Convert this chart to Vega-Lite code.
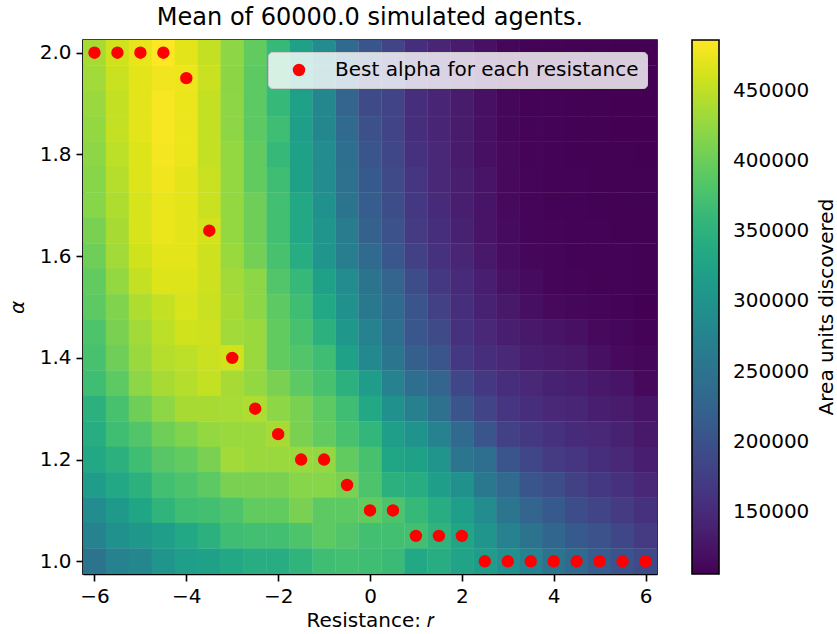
{
  "$schema": "https://vega.github.io/schema/vega-lite/v6.json",
  "autosize": {"type": "none"},
  "width": 574,
  "height": 534,
  "padding": {"left": 83, "top": 40, "right": 180, "bottom": 60},
  "background": "white",
  "title": {"text": "Mean of 60000.0 simulated agents.", "font": "DejaVu Sans", "fontSize": 24, "fontWeight": "normal", "color": "black", "anchor": "middle", "offset": 10},
  "config": {
    "font": "DejaVu Sans",
    "view": {"stroke": "black", "strokeWidth": 1.6},
    "axis": {
      "domainColor": "black", "domainWidth": 1.6, "tickColor": "black", "tickWidth": 1.6, "tickSize": 7,
      "labelFont": "DejaVu Sans", "labelFontSize": 20, "labelColor": "black", "labelPadding": 5, "labelFlush": false,
      "titleFont": "DejaVu Sans", "titleFontSize": 20, "titleFontWeight": "normal", "titleColor": "black",
      "grid": false, "zindex": 1
    }
  },
  "datasets": {
    "grid": [
      {"r":-6,"a":2.0,"v":436600},{"r":-5.5,"a":2.0,"v":459400},{"r":-5,"a":2.0,"v":472700},{"r":-4.5,"a":2.0,"v":486000},{"r":-4,"a":2.0,"v":470800},{"r":-3.5,"a":2.0,"v":451800},{"r":-3,"a":2.0,"v":421400},{"r":-2.5,"a":2.0,"v":394800},{"r":-2,"a":2.0,"v":360600},{"r":-1.5,"a":2.0,"v":322600},{"r":-1,"a":2.0,"v":288400},{"r":-0.5,"a":2.0,"v":235200},{"r":0,"a":2.0,"v":204800},{"r":0.5,"a":2.0,"v":182000},{"r":1,"a":2.0,"v":155400},{"r":1.5,"a":2.0,"v":144000},{"r":2,"a":2.0,"v":132600},{"r":2.5,"a":2.0,"v":121200},{"r":3,"a":2.0,"v":111700},{"r":3.5,"a":2.0,"v":107900},{"r":4,"a":2.0,"v":107520},{"r":4.5,"a":2.0,"v":107140},{"r":5,"a":2.0,"v":106760},{"r":5.5,"a":2.0,"v":106380},{"r":6,"a":2.0,"v":106000},
      {"r":-6,"a":1.95,"v":432800},{"r":-5.5,"a":1.95,"v":455600},{"r":-5,"a":1.95,"v":470800},{"r":-4.5,"a":1.95,"v":478400},{"r":-4,"a":1.95,"v":476500},{"r":-3.5,"a":1.95,"v":455600},{"r":-3,"a":1.95,"v":421000},{"r":-2.5,"a":1.95,"v":391000},{"r":-2,"a":1.95,"v":360600},{"r":-1.5,"a":1.95,"v":318800},{"r":-1,"a":1.95,"v":284600},{"r":-0.5,"a":1.95,"v":235200},{"r":0,"a":1.95,"v":189600},{"r":0.5,"a":1.95,"v":182000},{"r":1,"a":1.95,"v":155400},{"r":1.5,"a":1.95,"v":144000},{"r":2,"a":1.95,"v":132600},{"r":2.5,"a":1.95,"v":121200},{"r":3,"a":1.95,"v":111700},{"r":3.5,"a":1.95,"v":107900},{"r":4,"a":1.95,"v":107140},{"r":4.5,"a":1.95,"v":106760},{"r":5,"a":1.95,"v":106380},{"r":5.5,"a":1.95,"v":106380},{"r":6,"a":1.95,"v":106380},
      {"r":-6,"a":1.9,"v":429000},{"r":-5.5,"a":1.9,"v":451800},{"r":-5,"a":1.9,"v":470800},{"r":-4.5,"a":1.9,"v":482200},{"r":-4,"a":1.9,"v":474600},{"r":-3.5,"a":1.9,"v":451800},{"r":-3,"a":1.9,"v":421400},{"r":-2.5,"a":1.9,"v":391000},{"r":-2,"a":1.9,"v":360600},{"r":-1.5,"a":1.9,"v":322600},{"r":-1,"a":1.9,"v":280800},{"r":-0.5,"a":1.9,"v":227600},{"r":0,"a":1.9,"v":189600},{"r":0.5,"a":1.9,"v":182000},{"r":1,"a":1.9,"v":155400},{"r":1.5,"a":1.9,"v":144000},{"r":2,"a":1.9,"v":132600},{"r":2.5,"a":1.9,"v":121200},{"r":3,"a":1.9,"v":111700},{"r":3.5,"a":1.9,"v":107900},{"r":4,"a":1.9,"v":107520},{"r":4.5,"a":1.9,"v":107140},{"r":5,"a":1.9,"v":106760},{"r":5.5,"a":1.9,"v":106000},{"r":6,"a":1.9,"v":106380},
      {"r":-6,"a":1.85,"v":425200},{"r":-5.5,"a":1.85,"v":451800},{"r":-5,"a":1.85,"v":470800},{"r":-4.5,"a":1.85,"v":482200},{"r":-4,"a":1.85,"v":474600},{"r":-3.5,"a":1.85,"v":451800},{"r":-3,"a":1.85,"v":421400},{"r":-2.5,"a":1.85,"v":391000},{"r":-2,"a":1.85,"v":368200},{"r":-1.5,"a":1.85,"v":318800},{"r":-1,"a":1.85,"v":280800},{"r":-0.5,"a":1.85,"v":235200},{"r":0,"a":1.85,"v":197200},{"r":0.5,"a":1.85,"v":182000},{"r":1,"a":1.85,"v":155400},{"r":1.5,"a":1.85,"v":144000},{"r":2,"a":1.85,"v":132600},{"r":2.5,"a":1.85,"v":121200},{"r":3,"a":1.85,"v":111700},{"r":3.5,"a":1.85,"v":109040},{"r":4,"a":1.85,"v":107520},{"r":4.5,"a":1.85,"v":107140},{"r":5,"a":1.85,"v":106760},{"r":5.5,"a":1.85,"v":106380},{"r":6,"a":1.85,"v":106000},
      {"r":-6,"a":1.8,"v":421400},{"r":-5.5,"a":1.8,"v":448000},{"r":-5,"a":1.8,"v":467000},{"r":-4.5,"a":1.8,"v":480300},{"r":-4,"a":1.8,"v":474600},{"r":-3.5,"a":1.8,"v":451800},{"r":-3,"a":1.8,"v":425200},{"r":-2.5,"a":1.8,"v":394800},{"r":-2,"a":1.8,"v":360600},{"r":-1.5,"a":1.8,"v":322600},{"r":-1,"a":1.8,"v":288400},{"r":-0.5,"a":1.8,"v":242800},{"r":0,"a":1.8,"v":204800},{"r":0.5,"a":1.8,"v":185800},{"r":1,"a":1.8,"v":159200},{"r":1.5,"a":1.8,"v":147800},{"r":2,"a":1.8,"v":132600},{"r":2.5,"a":1.8,"v":121200},{"r":3,"a":1.8,"v":113600},{"r":3.5,"a":1.8,"v":109040},{"r":4,"a":1.8,"v":107900},{"r":4.5,"a":1.8,"v":107140},{"r":5,"a":1.8,"v":106760},{"r":5.5,"a":1.8,"v":106760},{"r":6,"a":1.8,"v":106380},
      {"r":-6,"a":1.75,"v":417600},{"r":-5.5,"a":1.75,"v":444200},{"r":-5,"a":1.75,"v":467000},{"r":-4.5,"a":1.75,"v":478400},{"r":-4,"a":1.75,"v":470800},{"r":-3.5,"a":1.75,"v":455600},{"r":-3,"a":1.75,"v":425200},{"r":-2.5,"a":1.75,"v":394800},{"r":-2,"a":1.75,"v":368200},{"r":-1.5,"a":1.75,"v":322600},{"r":-1,"a":1.75,"v":288400},{"r":-0.5,"a":1.75,"v":246600},{"r":0,"a":1.75,"v":212400},{"r":0.5,"a":1.75,"v":189600},{"r":1,"a":1.75,"v":163000},{"r":1.5,"a":1.75,"v":147800},{"r":2,"a":1.75,"v":136400},{"r":2.5,"a":1.75,"v":125000},{"r":3,"a":1.75,"v":113600},{"r":3.5,"a":1.75,"v":109800},{"r":4,"a":1.75,"v":107900},{"r":4.5,"a":1.75,"v":107520},{"r":5,"a":1.75,"v":107140},{"r":5.5,"a":1.75,"v":107140},{"r":6,"a":1.75,"v":106760},
      {"r":-6,"a":1.7,"v":417600},{"r":-5.5,"a":1.7,"v":440400},{"r":-5,"a":1.7,"v":463200},{"r":-4.5,"a":1.7,"v":474600},{"r":-4,"a":1.7,"v":470800},{"r":-3.5,"a":1.7,"v":455600},{"r":-3,"a":1.7,"v":425200},{"r":-2.5,"a":1.7,"v":402400},{"r":-2,"a":1.7,"v":372000},{"r":-1.5,"a":1.7,"v":334000},{"r":-1,"a":1.7,"v":296000},{"r":-0.5,"a":1.7,"v":250400},{"r":0,"a":1.7,"v":216200},{"r":0.5,"a":1.7,"v":193400},{"r":1,"a":1.7,"v":166800},{"r":1.5,"a":1.7,"v":151600},{"r":2,"a":1.7,"v":136400},{"r":2.5,"a":1.7,"v":125000},{"r":3,"a":1.7,"v":113600},{"r":3.5,"a":1.7,"v":109800},{"r":4,"a":1.7,"v":108280},{"r":4.5,"a":1.7,"v":107520},{"r":5,"a":1.7,"v":107140},{"r":5.5,"a":1.7,"v":107140},{"r":6,"a":1.7,"v":106760},
      {"r":-6,"a":1.65,"v":410000},{"r":-5.5,"a":1.65,"v":436600},{"r":-5,"a":1.65,"v":463200},{"r":-4.5,"a":1.65,"v":474600},{"r":-4,"a":1.65,"v":470800},{"r":-3.5,"a":1.65,"v":461300},{"r":-3,"a":1.65,"v":425200},{"r":-2.5,"a":1.65,"v":402400},{"r":-2,"a":1.65,"v":372000},{"r":-1.5,"a":1.65,"v":334000},{"r":-1,"a":1.65,"v":303600},{"r":-0.5,"a":1.65,"v":261800},{"r":0,"a":1.65,"v":223800},{"r":0.5,"a":1.65,"v":201000},{"r":1,"a":1.65,"v":170600},{"r":1.5,"a":1.65,"v":155400},{"r":2,"a":1.65,"v":140200},{"r":2.5,"a":1.65,"v":125000},{"r":3,"a":1.65,"v":115500},{"r":3.5,"a":1.65,"v":110560},{"r":4,"a":1.65,"v":109040},{"r":4.5,"a":1.65,"v":107900},{"r":5,"a":1.65,"v":107520},{"r":5.5,"a":1.65,"v":107140},{"r":6,"a":1.65,"v":106760},
      {"r":-6,"a":1.6,"v":402400},{"r":-5.5,"a":1.6,"v":432800},{"r":-5,"a":1.6,"v":459400},{"r":-4.5,"a":1.6,"v":470800},{"r":-4,"a":1.6,"v":470800},{"r":-3.5,"a":1.6,"v":457500},{"r":-3,"a":1.6,"v":429000},{"r":-2.5,"a":1.6,"v":406200},{"r":-2,"a":1.6,"v":375800},{"r":-1.5,"a":1.6,"v":341600},{"r":-1,"a":1.6,"v":303600},{"r":-0.5,"a":1.6,"v":265600},{"r":0,"a":1.6,"v":235200},{"r":0.5,"a":1.6,"v":208600},{"r":1,"a":1.6,"v":178200},{"r":1.5,"a":1.6,"v":159200},{"r":2,"a":1.6,"v":144000},{"r":2.5,"a":1.6,"v":128800},{"r":3,"a":1.6,"v":117400},{"r":3.5,"a":1.6,"v":111700},{"r":4,"a":1.6,"v":109800},{"r":4.5,"a":1.6,"v":108280},{"r":5,"a":1.6,"v":107900},{"r":5.5,"a":1.6,"v":107520},{"r":6,"a":1.6,"v":106760},
      {"r":-6,"a":1.55,"v":394800},{"r":-5.5,"a":1.55,"v":425200},{"r":-5,"a":1.55,"v":451800},{"r":-4.5,"a":1.55,"v":467000},{"r":-4,"a":1.55,"v":467000},{"r":-3.5,"a":1.55,"v":457500},{"r":-3,"a":1.55,"v":432800},{"r":-2.5,"a":1.55,"v":421400},{"r":-2,"a":1.55,"v":383400},{"r":-1.5,"a":1.55,"v":360600},{"r":-1,"a":1.55,"v":322600},{"r":-0.5,"a":1.55,"v":288400},{"r":0,"a":1.55,"v":250400},{"r":0.5,"a":1.55,"v":227600},{"r":1,"a":1.55,"v":193400},{"r":1.5,"a":1.55,"v":166800},{"r":2,"a":1.55,"v":151600},{"r":2.5,"a":1.55,"v":136400},{"r":3,"a":1.55,"v":123100},{"r":3.5,"a":1.55,"v":115500},{"r":4,"a":1.55,"v":110560},{"r":4.5,"a":1.55,"v":109040},{"r":5,"a":1.55,"v":108280},{"r":5.5,"a":1.55,"v":107520},{"r":6,"a":1.55,"v":106760},
      {"r":-6,"a":1.5,"v":391000},{"r":-5.5,"a":1.5,"v":413800},{"r":-5,"a":1.5,"v":440400},{"r":-4.5,"a":1.5,"v":451800},{"r":-4,"a":1.5,"v":463200},{"r":-3.5,"a":1.5,"v":455600},{"r":-3,"a":1.5,"v":436600},{"r":-2.5,"a":1.5,"v":421400},{"r":-2,"a":1.5,"v":391000},{"r":-1.5,"a":1.5,"v":368200},{"r":-1,"a":1.5,"v":334000},{"r":-0.5,"a":1.5,"v":296000},{"r":0,"a":1.5,"v":258000},{"r":0.5,"a":1.5,"v":235200},{"r":1,"a":1.5,"v":204800},{"r":1.5,"a":1.5,"v":178200},{"r":2,"a":1.5,"v":155400},{"r":2.5,"a":1.5,"v":140200},{"r":3,"a":1.5,"v":128800},{"r":3.5,"a":1.5,"v":119300},{"r":4,"a":1.5,"v":113600},{"r":4.5,"a":1.5,"v":111700},{"r":5,"a":1.5,"v":109800},{"r":5.5,"a":1.5,"v":107900},{"r":6,"a":1.5,"v":106000},
      {"r":-6,"a":1.45,"v":379600},{"r":-5.5,"a":1.45,"v":410000},{"r":-5,"a":1.45,"v":432800},{"r":-4.5,"a":1.45,"v":448000},{"r":-4,"a":1.45,"v":459400},{"r":-3.5,"a":1.45,"v":457500},{"r":-3,"a":1.45,"v":432800},{"r":-2.5,"a":1.45,"v":429000},{"r":-2,"a":1.45,"v":394800},{"r":-1.5,"a":1.45,"v":375800},{"r":-1,"a":1.45,"v":349200},{"r":-0.5,"a":1.45,"v":307400},{"r":0,"a":1.45,"v":273200},{"r":0.5,"a":1.45,"v":242800},{"r":1,"a":1.45,"v":208600},{"r":1.5,"a":1.45,"v":189600},{"r":2,"a":1.45,"v":159200},{"r":2.5,"a":1.45,"v":147800},{"r":3,"a":1.45,"v":136400},{"r":3.5,"a":1.45,"v":128800},{"r":4,"a":1.45,"v":125000},{"r":4.5,"a":1.45,"v":121200},{"r":5,"a":1.45,"v":113600},{"r":5.5,"a":1.45,"v":111700},{"r":6,"a":1.45,"v":107900},
      {"r":-6,"a":1.4,"v":375800},{"r":-5.5,"a":1.4,"v":402400},{"r":-5,"a":1.4,"v":429000},{"r":-4.5,"a":1.4,"v":444200},{"r":-4,"a":1.4,"v":448000},{"r":-3.5,"a":1.4,"v":455600},{"r":-3,"a":1.4,"v":459400},{"r":-2.5,"a":1.4,"v":429000},{"r":-2,"a":1.4,"v":394800},{"r":-1.5,"a":1.4,"v":383400},{"r":-1,"a":1.4,"v":368200},{"r":-0.5,"a":1.4,"v":322600},{"r":0,"a":1.4,"v":284600},{"r":0.5,"a":1.4,"v":254200},{"r":1,"a":1.4,"v":220000},{"r":1.5,"a":1.4,"v":204800},{"r":2,"a":1.4,"v":166800},{"r":2.5,"a":1.4,"v":155400},{"r":3,"a":1.4,"v":147800},{"r":3.5,"a":1.4,"v":136400},{"r":4,"a":1.4,"v":132600},{"r":4.5,"a":1.4,"v":128800},{"r":5,"a":1.4,"v":121200},{"r":5.5,"a":1.4,"v":113600},{"r":6,"a":1.4,"v":111700},
      {"r":-6,"a":1.35,"v":368200},{"r":-5.5,"a":1.35,"v":391000},{"r":-5,"a":1.35,"v":421400},{"r":-4.5,"a":1.35,"v":436600},{"r":-4,"a":1.35,"v":444200},{"r":-3.5,"a":1.35,"v":451800},{"r":-3,"a":1.35,"v":436600},{"r":-2.5,"a":1.35,"v":425200},{"r":-2,"a":1.35,"v":410000},{"r":-1.5,"a":1.35,"v":391000},{"r":-1,"a":1.35,"v":375800},{"r":-0.5,"a":1.35,"v":349200},{"r":0,"a":1.35,"v":315000},{"r":0.5,"a":1.35,"v":273200},{"r":1,"a":1.35,"v":242800},{"r":1.5,"a":1.35,"v":227600},{"r":2,"a":1.35,"v":185800},{"r":2.5,"a":1.35,"v":166800},{"r":3,"a":1.35,"v":155400},{"r":3.5,"a":1.35,"v":147800},{"r":4,"a":1.35,"v":140200},{"r":4.5,"a":1.35,"v":136400},{"r":5,"a":1.35,"v":128800},{"r":5.5,"a":1.35,"v":125000},{"r":6,"a":1.35,"v":113600},
      {"r":-6,"a":1.3,"v":349200},{"r":-5.5,"a":1.3,"v":375800},{"r":-5,"a":1.3,"v":402400},{"r":-4.5,"a":1.3,"v":421400},{"r":-4,"a":1.3,"v":436600},{"r":-3.5,"a":1.3,"v":436600},{"r":-3,"a":1.3,"v":436200},{"r":-2.5,"a":1.3,"v":440400},{"r":-2,"a":1.3,"v":421400},{"r":-1.5,"a":1.3,"v":410000},{"r":-1,"a":1.3,"v":391000},{"r":-0.5,"a":1.3,"v":368200},{"r":0,"a":1.3,"v":334000},{"r":0.5,"a":1.3,"v":296000},{"r":1,"a":1.3,"v":269400},{"r":1.5,"a":1.3,"v":246600},{"r":2,"a":1.3,"v":204800},{"r":2.5,"a":1.3,"v":182000},{"r":3,"a":1.3,"v":163000},{"r":3.5,"a":1.3,"v":155400},{"r":4,"a":1.3,"v":147800},{"r":4.5,"a":1.3,"v":144000},{"r":5,"a":1.3,"v":136400},{"r":5.5,"a":1.3,"v":132600},{"r":6,"a":1.3,"v":125000},
      {"r":-6,"a":1.25,"v":341600},{"r":-5.5,"a":1.25,"v":368200},{"r":-5,"a":1.25,"v":383400},{"r":-4.5,"a":1.25,"v":402400},{"r":-4,"a":1.25,"v":413800},{"r":-3.5,"a":1.25,"v":425200},{"r":-3,"a":1.25,"v":429000},{"r":-2.5,"a":1.25,"v":429000},{"r":-2,"a":1.25,"v":436600},{"r":-1.5,"a":1.25,"v":410000},{"r":-1,"a":1.25,"v":394800},{"r":-0.5,"a":1.25,"v":375800},{"r":0,"a":1.25,"v":356800},{"r":0.5,"a":1.25,"v":318800},{"r":1,"a":1.25,"v":299800},{"r":1.5,"a":1.25,"v":273200},{"r":2,"a":1.25,"v":235200},{"r":2.5,"a":1.25,"v":204800},{"r":3,"a":1.25,"v":178200},{"r":3.5,"a":1.25,"v":166800},{"r":4,"a":1.25,"v":159200},{"r":4.5,"a":1.25,"v":151600},{"r":5,"a":1.25,"v":147800},{"r":5.5,"a":1.25,"v":140200},{"r":6,"a":1.25,"v":128800},
      {"r":-6,"a":1.2,"v":334000},{"r":-5.5,"a":1.2,"v":349200},{"r":-5,"a":1.2,"v":368200},{"r":-4.5,"a":1.2,"v":387200},{"r":-4,"a":1.2,"v":394800},{"r":-3.5,"a":1.2,"v":410000},{"r":-3,"a":1.2,"v":432800},{"r":-2.5,"a":1.2,"v":428600},{"r":-2,"a":1.2,"v":429000},{"r":-1.5,"a":1.2,"v":429000},{"r":-1,"a":1.2,"v":425200},{"r":-0.5,"a":1.2,"v":394800},{"r":0,"a":1.2,"v":375800},{"r":0.5,"a":1.2,"v":330200},{"r":1,"a":1.2,"v":322600},{"r":1.5,"a":1.2,"v":303600},{"r":2,"a":1.2,"v":254200},{"r":2.5,"a":1.2,"v":242800},{"r":3,"a":1.2,"v":204800},{"r":3.5,"a":1.2,"v":185800},{"r":4,"a":1.2,"v":170600},{"r":4.5,"a":1.2,"v":163000},{"r":5,"a":1.2,"v":155400},{"r":5.5,"a":1.2,"v":147800},{"r":6,"a":1.2,"v":136400},
      {"r":-6,"a":1.15,"v":315000},{"r":-5.5,"a":1.15,"v":334000},{"r":-5,"a":1.15,"v":349200},{"r":-4.5,"a":1.15,"v":372000},{"r":-4,"a":1.15,"v":379600},{"r":-3.5,"a":1.15,"v":391000},{"r":-3,"a":1.15,"v":410000},{"r":-2.5,"a":1.15,"v":410000},{"r":-2,"a":1.15,"v":410000},{"r":-1.5,"a":1.15,"v":417600},{"r":-1,"a":1.15,"v":417600},{"r":-0.5,"a":1.15,"v":410000},{"r":0,"a":1.15,"v":379600},{"r":0.5,"a":1.15,"v":349200},{"r":1,"a":1.15,"v":341600},{"r":1.5,"a":1.15,"v":318800},{"r":2,"a":1.15,"v":296000},{"r":2.5,"a":1.15,"v":258000},{"r":3,"a":1.15,"v":235200},{"r":3.5,"a":1.15,"v":204800},{"r":4,"a":1.15,"v":193400},{"r":4.5,"a":1.15,"v":178200},{"r":5,"a":1.15,"v":166800},{"r":5.5,"a":1.15,"v":159200},{"r":6,"a":1.15,"v":147800},
      {"r":-6,"a":1.1,"v":288400},{"r":-5.5,"a":1.1,"v":311200},{"r":-5,"a":1.1,"v":330200},{"r":-4.5,"a":1.1,"v":353000},{"r":-4,"a":1.1,"v":368200},{"r":-3.5,"a":1.1,"v":372000},{"r":-3,"a":1.1,"v":379600},{"r":-2.5,"a":1.1,"v":394800},{"r":-2,"a":1.1,"v":394800},{"r":-1.5,"a":1.1,"v":410000},{"r":-1,"a":1.1,"v":391000},{"r":-0.5,"a":1.1,"v":391000},{"r":0,"a":1.1,"v":394800},{"r":0.5,"a":1.1,"v":379600},{"r":1,"a":1.1,"v":360600},{"r":1.5,"a":1.1,"v":341600},{"r":2,"a":1.1,"v":318800},{"r":2.5,"a":1.1,"v":288400},{"r":3,"a":1.1,"v":254200},{"r":3.5,"a":1.1,"v":227600},{"r":4,"a":1.1,"v":212400},{"r":4.5,"a":1.1,"v":193400},{"r":5,"a":1.1,"v":182000},{"r":5.5,"a":1.1,"v":170600},{"r":6,"a":1.1,"v":159200},
      {"r":-6,"a":1.05,"v":273200},{"r":-5.5,"a":1.05,"v":296000},{"r":-5,"a":1.05,"v":307400},{"r":-4.5,"a":1.05,"v":318800},{"r":-4,"a":1.05,"v":334000},{"r":-3.5,"a":1.05,"v":349200},{"r":-3,"a":1.05,"v":368200},{"r":-2.5,"a":1.05,"v":372000},{"r":-2,"a":1.05,"v":372000},{"r":-1.5,"a":1.05,"v":379600},{"r":-1,"a":1.05,"v":391000},{"r":-0.5,"a":1.05,"v":383400},{"r":0,"a":1.05,"v":372000},{"r":0.5,"a":1.05,"v":372000},{"r":1,"a":1.05,"v":372000},{"r":1.5,"a":1.05,"v":353000},{"r":2,"a":1.05,"v":330200},{"r":2.5,"a":1.05,"v":303600},{"r":3,"a":1.05,"v":273200},{"r":3.5,"a":1.05,"v":250400},{"r":4,"a":1.05,"v":231400},{"r":4.5,"a":1.05,"v":212400},{"r":5,"a":1.05,"v":201000},{"r":5.5,"a":1.05,"v":185800},{"r":6,"a":1.05,"v":170600},
      {"r":-6,"a":1.0,"v":250400},{"r":-5.5,"a":1.0,"v":273200},{"r":-5,"a":1.0,"v":280800},{"r":-4.5,"a":1.0,"v":303600},{"r":-4,"a":1.0,"v":318800},{"r":-3.5,"a":1.0,"v":322600},{"r":-3,"a":1.0,"v":334000},{"r":-2.5,"a":1.0,"v":341600},{"r":-2,"a":1.0,"v":341600},{"r":-1.5,"a":1.0,"v":353000},{"r":-1,"a":1.0,"v":368200},{"r":-0.5,"a":1.0,"v":372000},{"r":0,"a":1.0,"v":368200},{"r":0.5,"a":1.0,"v":364400},{"r":1,"a":1.0,"v":334000},{"r":1.5,"a":1.0,"v":341600},{"r":2,"a":1.0,"v":326400},{"r":2.5,"a":1.0,"v":315000},{"r":3,"a":1.0,"v":296000},{"r":3.5,"a":1.0,"v":273200},{"r":4,"a":1.0,"v":250400},{"r":4.5,"a":1.0,"v":235200},{"r":5,"a":1.0,"v":216200},{"r":5.5,"a":1.0,"v":201000},{"r":6,"a":1.0,"v":189600}
    ],
    "best": [
      {"r":-6,"a":2.0},{"r":-5.5,"a":2.0},{"r":-5,"a":2.0},{"r":-4.5,"a":2.0},{"r":-4,"a":1.95},{"r":-3.5,"a":1.65},{"r":-3,"a":1.4},{"r":-2.5,"a":1.3},{"r":-2,"a":1.25},{"r":-1.5,"a":1.2},{"r":-1,"a":1.2},{"r":-0.5,"a":1.15},{"r":0,"a":1.1},{"r":0.5,"a":1.1},{"r":1,"a":1.05},{"r":1.5,"a":1.05},{"r":2,"a":1.05},{"r":2.5,"a":1.0},{"r":3,"a":1.0},{"r":3.5,"a":1.0},{"r":4,"a":1.0},{"r":4.5,"a":1.0},{"r":5,"a":1.0},{"r":5.5,"a":1.0},{"r":6,"a":1.0}
    ]
  },
  "layer": [
    {
      "data": {"name": "grid"},
      "mark": {"type": "rect", "width": 23.3, "height": 25.8, "clip": true},
      "encoding": {
        "x": {
          "field": "r", "type": "quantitative",
          "scale": {"domain": [-6.25, 6.25], "nice": false, "zero": false},
          "axis": {"values": [-6, -4, -2, 0, 2, 4, 6], "labelExpr": "replace(datum.label, '-', '\u2212')", "title": "Resistance: \ud835\udc5f", "titlePadding": 4}
        },
        "y": {
          "field": "a", "type": "quantitative",
          "scale": {"domain": [0.975, 2.025], "nice": false, "zero": false},
          "axis": {"values": [1.0, 1.2, 1.4, 1.6, 1.8, 2.0], "format": ".1f", "title": "α", "titleFontStyle": "italic", "titlePadding": 12}
        },
        "color": {
          "field": "v", "type": "quantitative",
          "scale": {"scheme": "viridis", "domain": [106000, 486000]},
          "legend": {
            "orient": "none", "legendX": 609, "legendY": 0, "direction": "vertical",
            "gradientLength": 534, "gradientThickness": 27,
            "gradientStrokeColor": "black", "gradientStrokeWidth": 1.6,
            "values": [150000, 200000, 250000, 300000, 350000, 400000, 450000], "format": "d",
            "labelFont": "DejaVu Sans", "labelFontSize": 20, "labelColor": "black", "labelOffset": 14,
            "title": "Area units discovered", "titleOrient": "right", "titleFont": "DejaVu Sans", "titleLimit": 500,
            "titleFontSize": 20, "titleFontWeight": "normal", "titleColor": "black", "titlePadding": 28,
            "encode": {"title": {"update": {"angle": {"value": -90}}}}
          }
        }
      }
    },
    {
      "data": {"name": "best"},
      "mark": {"type": "circle", "size": 154, "opacity": 1},
      "encoding": {
        "x": {"field": "r", "type": "quantitative"},
        "y": {"field": "a", "type": "quantitative"},
        "fill": {
          "datum": "Best alpha for each resistance", "type": "nominal",
          "scale": {"range": ["#ff0000"]},
          "legend": {
            "orient": "none", "legendX": 185, "legendY": 12, "title": null,
            "fillColor": "rgba(255,255,255,0.8)", "strokeColor": "#cccccc", "cornerRadius": 4, "padding": 8,
            "symbolType": "circle", "symbolSize": 154, "symbolStrokeWidth": 0, "symbolOpacity": 1,
            "symbolOffset": 13, "labelOffset": 26, "labelFont": "DejaVu Sans", "labelFontSize": 20, "labelColor": "black", "labelLimit": 400
          }
        }
      }
    }
  ]
}
